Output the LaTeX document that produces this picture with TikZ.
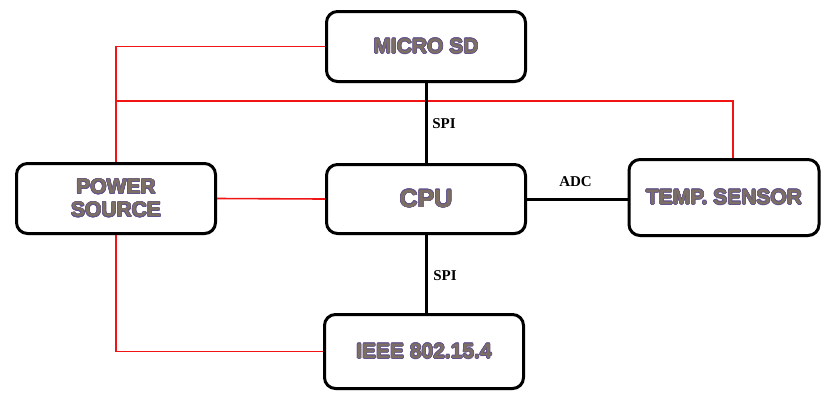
\documentclass[tikz,border=0pt]{standalone}
\usepackage{fontspec}
\usepackage[copies]{contour}
\usetikzlibrary{shadows}
\newfontfamily\boxfont{Liberation Sans}
\newfontfamily\lblfont{Liberation Serif}
\definecolor{txtfill}{RGB}{125,112,98}
\definecolor{txtline}{RGB}{98,84,140}
\definecolor{wire}{RGB}{240,20,20}
\contourlength{0.6pt}
\newcommand{\bt}[1]{\contour{txtline}{\textcolor{txtfill}{#1}}}
\begin{document}
\begin{tikzpicture}[x=1pt,y=-1pt,
  blk/.style={draw=black, line width=3pt, rounded corners=11pt, fill=white,
    inner sep=0pt, align=center,
    font=\boxfont\bfseries\fontsize{21}{23}\selectfont,
    drop shadow={shadow xshift=1pt, shadow yshift=-1.5pt, opacity=0.25, fill=black}},
  pwr/.style={draw=wire, line width=1.6pt},
  bus/.style={draw=black, line width=3pt},
  lbl/.style={font=\lblfont\bfseries\fontsize{15}{17}\selectfont, inner sep=0pt}]
\useasboundingbox (0,0) rectangle (821,392);

\node[blk, minimum width=199pt, minimum height=70pt] (micro) at (426,46.5) {\bt{MICRO SD}};
\node[blk, minimum width=199pt, minimum height=70pt] (power) at (116,198.5) {\bt{POWER}\\\bt{SOURCE}};
\node[blk, minimum width=199pt, minimum height=69pt, font=\boxfont\bfseries\fontsize{25}{28}\selectfont] (cpu) at (426,199) {\bt{CPU}};
\node[blk, minimum width=190pt, minimum height=76pt] (temp) at (724,197.5) {\bt{TEMP. SENSOR}};
\node[blk, minimum width=199pt, minimum height=74pt] (ieee) at (424,351.5) {\bt{IEEE 802.15.4}};

\coordinate (junc) at (116,101);
\coordinate (tempin) at ([xshift=9pt]temp.north);

% power wiring
\draw[pwr] (micro.west) -| (power.north);
\draw[pwr] (junc) -| (tempin);
\draw[pwr] (power.east) -- (cpu.west);
\draw[pwr] (power.south) |- (ieee.west);

% data buses
\draw[bus] (micro.south) -- (cpu.north);
\draw[bus] (cpu.south) -- (cpu.south |- ieee.north);
\draw[bus] (cpu.east) -- (cpu.east -| temp.west);

\node[lbl] (spi1) at (444,124) {SPI};
\node[lbl] (spi2) at (445,275.5) {SPI};
\node[lbl] (adc) at (575.5,181.5) {ADC};
\end{tikzpicture}
\end{document}
